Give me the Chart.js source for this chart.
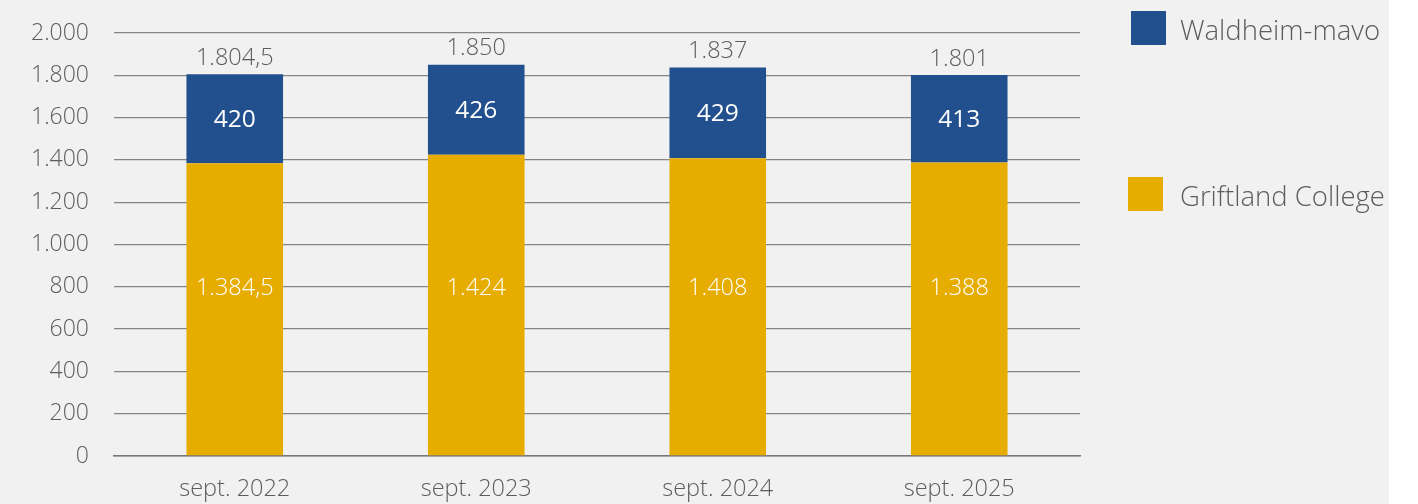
<!DOCTYPE html>
<html>
<head>
<meta charset="utf-8">
<script src="https://cdn.jsdelivr.net/npm/chart.js@4"></script>
<style>
html,body{margin:0;padding:0;background:#ffffff;}
#wrap{position:absolute;left:0;top:0;width:1389px;height:504px;background:#f1f1f1;}
canvas{display:block;}
</style>
</head>
<body>
<div id="wrap"><canvas id="c" width="1389" height="504"></canvas></div>
<script>
const categories = ['sept. 2022', 'sept. 2023', 'sept. 2024', 'sept. 2025'];
const griftland = [1384.5, 1424, 1408, 1388];
const waldheim = [420, 426, 429, 413];
const totals = [1804.5, 1850, 1837, 1801];
const seriesNames = ['Griftland College', 'Waldheim-mavo'];
const yTicks = [0, 200, 400, 600, 800, 1000, 1200, 1400, 1600, 1800, 2000];

const BLUE = '#22508f';
const GOLD = '#e6ac00';
const TXT = '#5c5c5c';
const FONT = "'Open Sans', sans-serif";

function fmt(v) {
  const neg = v < 0; v = Math.abs(v);
  let ip = Math.floor(v);
  let dec = Math.round((v - ip) * 10);
  let s = String(ip).replace(/\B(?=(\d{3})+(?!\d))/g, '.');
  if (dec) s += ',' + dec;
  return (neg ? '-' : '') + s;
}

const labelPlugin = {
  id: 'labels',
  afterDatasetsDraw(chart) {
    const ctx = chart.ctx;
    const y = chart.scales.y;
    ctx.save();
    ctx.textAlign = 'center';
    ctx.textBaseline = 'middle';
    const m0 = chart.getDatasetMeta(0);
    const m1 = chart.getDatasetMeta(1);
    m0.data.forEach((bar, i) => {
      ctx.fillStyle = '#ffffff';
      ctx.font = "350 23.5px " + FONT;
      ctx.fillText(fmt(griftland[i]), bar.x, y.getPixelForValue(795));
    });
    m1.data.forEach((bar, i) => {
      ctx.fillStyle = '#ffffff';
      ctx.font = "400 24.5px " + FONT;
      const mid = (bar.y + bar.base) / 2;
      ctx.fillText(fmt(waldheim[i]), bar.x, mid + 1);
      ctx.fillStyle = TXT;
      ctx.font = "350 23.5px " + FONT;
      ctx.fillText(fmt(totals[i]), bar.x, y.getPixelForValue(totals[i]) - 16);
    });
    ctx.restore();
  }
};

const legendPlugin = {
  id: 'customLegend',
  afterDraw(chart) {
    const ctx = chart.ctx;
    ctx.save();
    const items = [
      {ds: 1, x: 1131, y: 11},
      {ds: 0, x: 1128, y: 177}
    ];
    items.forEach(it => {
      const ds = chart.data.datasets[it.ds];
      ctx.fillStyle = ds.backgroundColor;
      ctx.fillRect(it.x, it.y, 35, 34);
      ctx.fillStyle = TXT;
      ctx.font = "350 27.5px " + FONT;
      ctx.textAlign = 'left';
      ctx.textBaseline = 'middle';
      ctx.fillText(ds.label, 1180, it.y + 21);
    });
    ctx.restore();
  }
};

new Chart(document.getElementById('c'), {
  type: 'bar',
  data: {
    labels: categories,
    datasets: [
      {label: seriesNames[0], data: griftland, backgroundColor: GOLD, stack: 's'},
      {label: seriesNames[1], data: waldheim, backgroundColor: BLUE, stack: 's'}
    ]
  },
  options: {
    responsive: false,
    animation: false,
    devicePixelRatio: 1,
    categoryPercentage: 1,
    barPercentage: 0.4,
    layout: {padding: {left: 0, right: 309, top: 33, bottom: 0}},
    plugins: {legend: {display: false}, tooltip: {enabled: false}},
    scales: {
      x: {
        stacked: true,
        grid: {display: false, drawTicks: false},
        border: {display: true, color: '#777777', width: 1.5},
        ticks: {color: TXT, font: {family: FONT, size: 23.5, weight: 350}, padding: 19},
        afterFit(s) { s.height = 48; s.paddingLeft = 0; s.paddingRight = 0; }
      },
      y: {
        stacked: true,
        min: 0, max: 2000,
        afterBuildTicks(s) { s.ticks = yTicks.map(v => ({value: v})); },
        grid: {color: '#858585', lineWidth: 1.3, drawTicks: false},
        border: {display: false},
        ticks: {color: TXT, font: {family: FONT, size: 23, weight: 350}, padding: 25, callback: v => fmt(v)},
        afterFit(s) { s.width = 114; s.paddingTop = 0; s.paddingBottom = 0; }
      }
    }
  },
  plugins: [labelPlugin, legendPlugin]
});
</script>
</body>
</html>
